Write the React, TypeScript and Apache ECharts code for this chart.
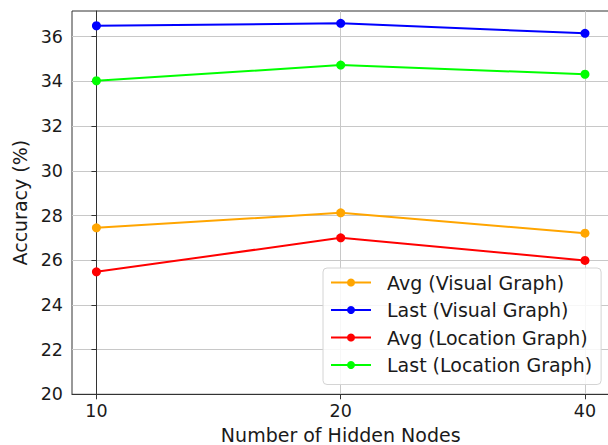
import React, { useEffect, useRef } from "react";
import * as echarts from "echarts";

// Hidden-node settings on the x axis (evenly spaced)
const hiddenNodes = ["10", "20", "40"];

// Accuracy (%) per setting
const avgVisual = [27.45, 28.12, 27.21];
const lastVisual = [36.49, 36.6, 36.15];
const avgLocation = [25.48, 27.0, 25.99];
const lastLocation = [34.03, 34.73, 34.32];

const yTicks = [20, 22, 24, 26, 28, 30, 32, 34, 36];

const seriesDefs = [
  { name: "Avg (Visual Graph)", values: avgVisual, color: "#FFA500" },
  { name: "Last (Visual Graph)", values: lastVisual, color: "#0000FF" },
  { name: "Avg (Location Graph)", values: avgLocation, color: "#FF0000" },
  { name: "Last (Location Graph)", values: lastLocation, color: "#00FF00" },
];

const FONT = "DejaVu Sans";
const xIndices = hiddenNodes.map((_, i) => i);

export default function App() {
  const ref = useRef<HTMLDivElement>(null);

  useEffect(() => {
    if (!ref.current) return;
    const chart = echarts.init(ref.current, undefined, { renderer: "svg" });

    chart.setOption({
      animation: false,
      backgroundColor: "#ffffff",
      textStyle: { fontFamily: FONT },
      grid: {
        left: 72,
        top: 11,
        width: 537.4,
        height: 383.3,
        outerBoundsMode: "none",
        containLabel: false,
        show: true,
        borderColor: "#333333",
        borderWidth: 1,
        backgroundColor: "transparent",
      },
      legend: {
        left: 323,
        top: 268,
        orient: "vertical",
        itemWidth: 40,
        itemHeight: 10,
        itemGap: 7.5,
        padding: [4.5, 9, 9.5, 7],
        backgroundColor: "rgba(255,255,255,0.85)",
        borderColor: "#d4d4d4",
        borderWidth: 1,
        borderRadius: 4,
        textStyle: {
          fontFamily: FONT,
          fontSize: 19,
          color: "#1a1a1a",
          lineHeight: 20,
          padding: [0, 0, 0, 11],
        },
        data: seriesDefs.map((s) => s.name),
      },
      xAxis: {
        type: "value",
        min: -0.1,
        max: 2.1,
        name: "Number of Hidden Nodes",
        nameLocation: "middle",
        nameGap: 30,
        nameTextStyle: { fontFamily: FONT, fontSize: 19, color: "#1a1a1a" },
        axisLine: { show: true, lineStyle: { color: "#333333", width: 1 } },
        axisTick: {
          show: true,
          length: 5,
          customValues: xIndices,
          lineStyle: { color: "#333333" },
        },
        axisLabel: {
          customValues: xIndices,
          margin: 8,
          fontFamily: FONT,
          fontSize: 17.5,
          color: "#1a1a1a",
          formatter: (v: number) => hiddenNodes[Math.round(v)] ?? "",
        },
        splitLine: { show: true, lineStyle: { color: "#c8c8c8", width: 1 } },
      },
      yAxis: {
        type: "value",
        min: 20,
        max: 37.15,
        name: "Accuracy (%)",
        nameLocation: "middle",
        nameRotate: 90,
        nameGap: 40,
        nameTextStyle: { fontFamily: FONT, fontSize: 19, color: "#1a1a1a" },
        axisLine: { show: true, lineStyle: { color: "#333333", width: 1 } },
        axisTick: {
          show: true,
          length: 5,
          customValues: yTicks,
          lineStyle: { color: "#333333" },
        },
        axisLabel: {
          customValues: yTicks,
          margin: 9,
          fontFamily: FONT,
          fontSize: 17.5,
          color: "#1a1a1a",
        },
        splitLine: { show: true, lineStyle: { color: "#c8c8c8", width: 1 } },
      },
      series: seriesDefs.map((s) => ({
        name: s.name,
        type: "line",
        data: s.values.map((v, i) => [xIndices[i], v]),
        symbol: "circle",
        symbolSize: 9,
        lineStyle: { color: s.color, width: 2 },
        itemStyle: { color: s.color },
        emphasis: { disabled: true },
      })),
    });

    return () => chart.dispose();
  }, []);

  return (
    <div
      ref={ref}
      style={{ position: "fixed", left: 0, top: 0, width: 608, height: 445 }}
    />
  );
}
